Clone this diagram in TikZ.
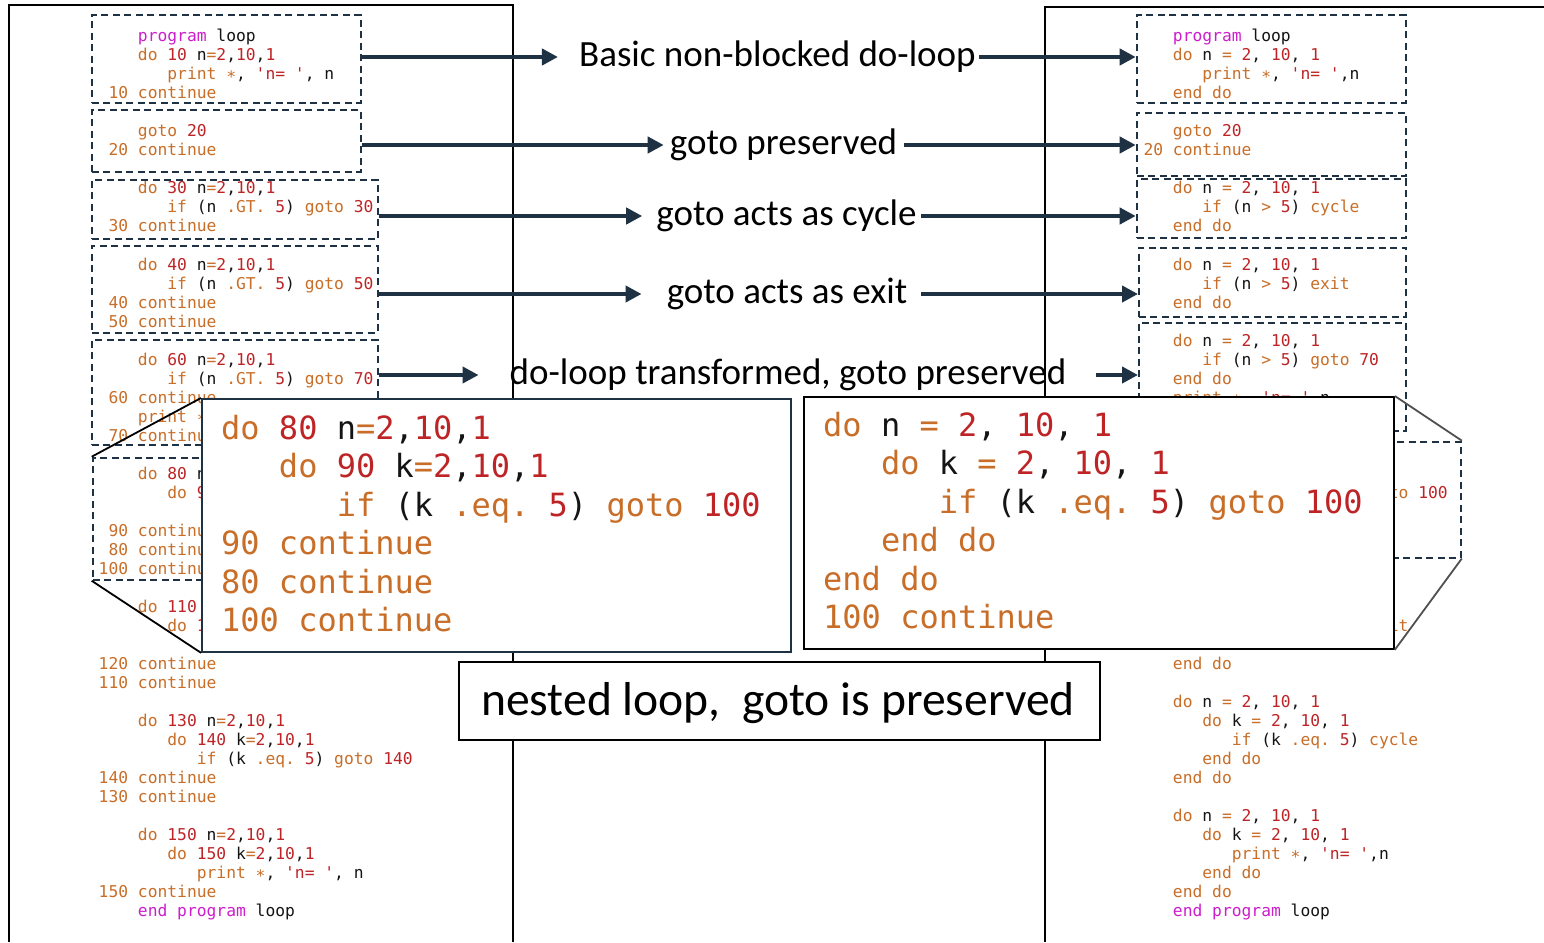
\documentclass[tikz,border=0pt]{standalone}
\usepackage{fontspec}
\setmainfont{Carlito}
\setmonofont{DejaVu Sans Mono}
\usetikzlibrary{arrows.meta,calc}
\definecolor{kwcol}{RGB}{200,110,40}
\definecolor{numcol}{RGB}{190,36,38}
\definecolor{magcol}{RGB}{204,30,204}
\definecolor{txtcol}{RGB}{20,20,20}
\definecolor{slate}{RGB}{30,50,68}
\definecolor{zoomgray}{RGB}{80,80,80}
\newcommand\kwc[1]{\textcolor{kwcol}{#1}}
\newcommand\nrc[1]{\textcolor{numcol}{#1}}
\newcommand\mgc[1]{\textcolor{magcol}{#1}}
\newcommand\ind[1]{\hskip #1\fontcharwd\font`0\relax}
\newcommand\cl[1]{\hbox{#1}}
\newcommand\blk{\hbox{}}
\newcommand\codestar{∗}
\newcommand\codelisting[2]{\vtop{\baselineskip=#1\lineskiplimit=-100pt\lineskip=0pt #2}}
\newcommand\lloopline[2]{\kwc{do} \nrc{#1} #2\kwc{=}\nrc{2},\nrc{10},\nrc{1}}
\newcommand\rloopline[1]{\kwc{do} #1 \kwc{=} \nrc{2}, \nrc{10}, \nrc{1}}
\tikzset{
  code/.style={anchor=base west, inner sep=0pt, text=txtcol,
    font=\ttfamily\fontsize{16.3}{19}\selectfont\frenchspacing},
  bigcode/.style={anchor=base west, inner sep=0pt, text=txtcol,
    font=\ttfamily\fontsize{32}{38.5}\selectfont\frenchspacing},
  dbox/.style={draw=slate, dash pattern=on 7pt off 4.5pt, line width=1.8pt,
    inner sep=0pt, anchor=north west},
  arr/.style={draw=slate, line width=4pt, -{Triangle[length=16pt,width=16pt]}},
  lab/.style={font=\fontsize{37}{44}\selectfont, inner sep=0pt, text=black},
  frame/.style={draw=black, line width=1.5pt},
  zl/.style={line width=1.8pt},
}
\begin{document}
\begin{tikzpicture}[x=1pt,y=-1pt]
\useasboundingbox (0,0) rectangle (1544,942);
\fill[white] (0,0) rectangle (1544,942);
% outer frames
\draw[frame] (9,942) -- (9,5) -- (513,5) -- (513,942);
\draw[frame] (1045,942) -- (1045,7) -- (1544,7);
% left listing (parts hidden by the magnified box are left out)
\node[code] (lcode) at (98.5,42) {\codelisting{19pt}{%
\cl{\ind{4}\mgc{program} loop}
\cl{\ind{4}\lloopline{10}{n}}
\cl{\ind{7}\kwc{print \codestar}, \nrc{'n= '}, n}
\cl{\ind{1}\kwc{10 continue}}
\blk
\cl{\ind{4}\kwc{goto} \nrc{20}}
\cl{\ind{1}\kwc{20 continue}}
\blk
\cl{\ind{4}\lloopline{30}{n}}
\cl{\ind{7}\kwc{if} (n \kwc{.GT.} \nrc{5}) \kwc{goto} \nrc{30}}
\cl{\ind{1}\kwc{30 continue}}
\blk
\cl{\ind{4}\lloopline{40}{n}}
\cl{\ind{7}\kwc{if} (n \kwc{.GT.} \nrc{5}) \kwc{goto} \nrc{50}}
\cl{\ind{1}\kwc{40 continue}}
\cl{\ind{1}\kwc{50 continue}}
\blk
\cl{\ind{4}\lloopline{60}{n}}
\cl{\ind{7}\kwc{if} (n \kwc{.GT.} \nrc{5}) \kwc{goto} \nrc{70}}
\cl{\ind{1}\kwc{60 continue}}
\cl{\ind{4}\kwc{print \codestar}}
\cl{\ind{1}\kwc{70 continu}}
\blk
\cl{\ind{4}\kwc{do} \nrc{80} n}
\cl{\ind{7}\kwc{do} \nrc{9}}
\blk
\cl{\ind{1}\kwc{90 continu}}
\cl{\ind{1}\kwc{80 continu}}
\cl{\kwc{100 continu}}
\blk
\cl{\ind{4}\kwc{do} \nrc{110}}
\cl{\ind{7}\kwc{do} \nrc{1}}
\blk
\cl{\kwc{120 continue}}
\cl{\kwc{110 continue}}
\blk
\cl{\ind{4}\lloopline{130}{n}}
\cl{\ind{7}\lloopline{140}{k}}
\cl{\ind{10}\kwc{if} (k \kwc{.eq.} \nrc{5}) \kwc{goto} \nrc{140}}
\cl{\kwc{140 continue}}
\cl{\kwc{130 continue}}
\blk
\cl{\ind{4}\lloopline{150}{n}}
\cl{\ind{7}\lloopline{150}{k}}
\cl{\ind{10}\kwc{print \codestar}, \nrc{'n= '}, n}
\cl{\kwc{150 continue}}
\cl{\ind{4}\mgc{end program} loop}
}};
% right listing (parts hidden by the magnified box are left out)
\node[code] (rcode) at (1133.5,42) {\codelisting{19pt}{%
\cl{\ind{4}\mgc{program} loop}
\cl{\ind{4}\rloopline{n}}
\cl{\ind{7}\kwc{print \codestar}, \nrc{'n= '},n}
\cl{\ind{4}\kwc{end do}}
\blk
\cl{\ind{4}\kwc{goto} \nrc{20}}
\cl{\ind{1}\kwc{20 continue}}
\blk
\cl{\ind{4}\rloopline{n}}
\cl{\ind{7}\kwc{if} (n \kwc{>} \nrc{5}) \kwc{cycle}}
\cl{\ind{4}\kwc{end do}}
\blk
\cl{\ind{4}\rloopline{n}}
\cl{\ind{7}\kwc{if} (n \kwc{>} \nrc{5}) \kwc{exit}}
\cl{\ind{4}\kwc{end do}}
\blk
\cl{\ind{4}\rloopline{n}}
\cl{\ind{7}\kwc{if} (n \kwc{>} \nrc{5}) \kwc{goto} \nrc{70}}
\cl{\ind{4}\kwc{end do}}
\cl{\ind{4}\kwc{print \codestar}, \nrc{'n= '},n}
\blk
\blk
\blk
\blk
\cl{\ind{26}\kwc{to} \nrc{100}}
\blk
\blk
\blk
\blk
\blk
\blk
\cl{\ind{26}\kwc{it}}
\blk
\cl{\ind{4}\kwc{end do}}
\blk
\cl{\ind{4}\rloopline{n}}
\cl{\ind{7}\rloopline{k}}
\cl{\ind{10}\kwc{if} (k \kwc{.eq.} \nrc{5}) \kwc{cycle}}
\cl{\ind{7}\kwc{end do}}
\cl{\ind{4}\kwc{end do}}
\blk
\cl{\ind{4}\rloopline{n}}
\cl{\ind{7}\rloopline{k}}
\cl{\ind{10}\kwc{print \codestar}, \nrc{'n= '},n}
\cl{\ind{7}\kwc{end do}}
\cl{\ind{4}\kwc{end do}}
\cl{\ind{4}\mgc{end program} loop}
}};
% dashed boxes left
\node[dbox, minimum width=269.3pt, minimum height=87.7pt] (d1) at (90.7,14) {};
\node[dbox, minimum width=269.3pt, minimum height=61.7pt] (d2) at (90.7,109) {};
\node[dbox, minimum width=286.3pt, minimum height=59pt] (d3) at (90.7,179) {};
\node[dbox, minimum width=286.3pt, minimum height=86.7pt] (d4) at (90.7,245) {};
\node[dbox, minimum width=286.3pt, minimum height=105pt] (d5) at (90.7,339) {};
\node[dbox, minimum width=285.3pt, minimum height=122.3pt] (d6) at (91.7,456.7) {};
% dashed boxes right
\node[dbox, minimum width=269.3pt, minimum height=87.7pt] (r1) at (1135.7,14) {};
\node[dbox, minimum width=269.3pt, minimum height=63pt] (r2) at (1135.7,112) {};
\node[dbox, minimum width=269.3pt, minimum height=59pt] (r3) at (1135.7,178.3) {};
\node[dbox, minimum width=267pt, minimum height=69.3pt] (r4) at (1138,246.7) {};
\node[dbox, minimum width=267pt, minimum height=108.3pt] (r5) at (1138,321.7) {};
\node[dbox, minimum width=322pt, minimum height=116pt] (r6) at (1138,440.7) {};
% labels
\node[lab] (l1) at (777.5,57) {Basic non-blocked do-loop};
\node[lab] (l2) at (783.5,145) {goto preserved};
\node[lab] (l3) at (786.5,216) {goto acts as cycle};
\node[lab] (l4) at (787,294) {goto acts as exit};
\node[lab] (l5) at (788,375) {do-loop transformed, goto preserved};
% arrows
\draw[arr] (d1.east |- l1) -- ([xshift=-21pt]l1.west);
\draw[arr] ([xshift=3pt]l1.east) -- (r1.west |- l1);
\draw[arr] (d2.east |- l2) -- ([xshift=-6pt]l2.west);
\draw[arr] ([xshift=7pt]l2.east) -- (r2.west |- l2);
\draw[arr] (d3.east |- l3) -- ([xshift=-14pt]l3.west);
\draw[arr] ([xshift=4pt]l3.east) -- (r3.west |- l3);
\draw[arr] (d4.east |- l4) -- ([xshift=-25pt]l4.west);
\draw[arr] ([xshift=14pt]l4.east) -- (r4.west |- l4);
\draw[arr] (d5.east |- l5) -- ([xshift=-31pt]l5.west);
\draw[arr] ([xshift=30pt]l5.east) -- (r5.west |- l5);
% magnified boxes
\node[draw=slate, fill=white, line width=1.8pt, inner sep=0pt, anchor=north west,
  minimum width=589pt, minimum height=253pt] (bigL) at (201,398) {};
\node[draw=black, fill=white, line width=1.8pt, inner sep=0pt, anchor=north west,
  minimum width=590pt, minimum height=252pt] (bigR) at (803,396) {};
\draw[zl, black] (bigL.north west) -- (d6.north west);
\draw[zl, black] (d6.south west) -- (bigL.south west);
\draw[zl, zoomgray] (bigR.north east) -- (r6.north east);
\draw[zl, zoomgray] (bigR.south east) -- (r6.south east);
\node[bigcode] (bigLcode) at (221,439) {\codelisting{38.5pt}{%
\cl{\lloopline{80}{n}}
\cl{\ind{3}\lloopline{90}{k}}
\cl{\ind{6}\kwc{if} (k \kwc{.eq.} \nrc{5}) \kwc{goto} \nrc{100}}
\cl{\kwc{90 continue}}
\cl{\kwc{80 continue}}
\cl{\kwc{100 continue}}
}};
\node[bigcode] (bigRcode) at (823,436) {\codelisting{38.5pt}{%
\cl{\rloopline{n}}
\cl{\ind{3}\rloopline{k}}
\cl{\ind{6}\kwc{if} (k \kwc{.eq.} \nrc{5}) \kwc{goto} \nrc{100}}
\cl{\ind{3}\kwc{end do}}
\cl{\kwc{end do}}
\cl{\kwc{100 continue}}
}};
% caption box
\node[draw=black, fill=white, line width=1.8pt, inner sep=0pt, anchor=north west,
  minimum width=641pt, minimum height=78pt] (capbox) at (458,661) {};
\node[font=\fontsize{47.6}{56}\selectfont, inner sep=0pt] (cap) at (778,703) {nested loop,\ \ goto is preserved};
\end{tikzpicture}
\end{document}
